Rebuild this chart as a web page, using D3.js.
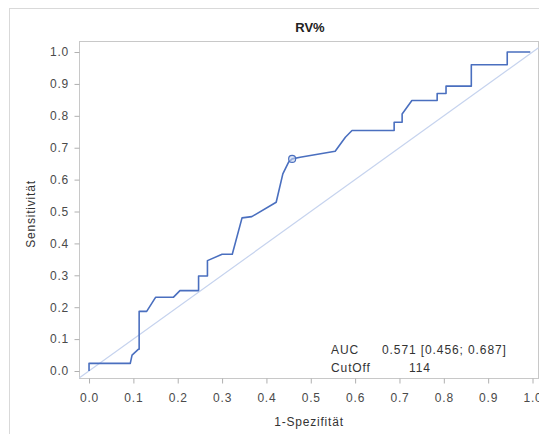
<!DOCTYPE html>
<html>
<head>
<meta charset="utf-8">
<script src="https://cdn.jsdelivr.net/npm/d3@7"></script>
<style>
  html, body { margin: 0; padding: 0; background: #fff; }
  svg { display: block; font-family: "Liberation Sans", Arial, sans-serif; }
</style>
</head>
<body>
<svg id="chart" width="539" height="434"></svg>
<script>
// ROC curve for RV%: 1-specificity (x) vs sensitivity (y)
const fpr  = [0.000, 0.000, 0.093, 0.097, 0.111, 0.113, 0.113, 0.130, 0.150, 0.190, 0.205, 0.247, 0.247, 0.267, 0.267, 0.300, 0.323, 0.345, 0.367, 0.422, 0.437, 0.450, 0.458, 0.476, 0.555, 0.578, 0.593, 0.688, 0.688, 0.706, 0.706, 0.728, 0.785, 0.785, 0.805, 0.805, 0.862, 0.862, 0.943, 0.943, 0.995];
const sens = [0.000, 0.024, 0.024, 0.050, 0.068, 0.068, 0.187, 0.187, 0.231, 0.231, 0.252, 0.252, 0.298, 0.298, 0.346, 0.366, 0.366, 0.480, 0.484, 0.529, 0.618, 0.655, 0.665, 0.670, 0.689, 0.733, 0.754, 0.754, 0.780, 0.780, 0.806, 0.848, 0.848, 0.870, 0.870, 0.893, 0.893, 0.960, 0.960, 1.000, 1.000];
const cutoffPoint = { x: 0.458, y: 0.665 };
const xTicks = [0, 0.1, 0.2, 0.3, 0.4, 0.5, 0.6, 0.7, 0.8, 0.9, 1.0];
const yTicks = [0, 0.1, 0.2, 0.3, 0.4, 0.5, 0.6, 0.7, 0.8, 0.9, 1.0];
const statLabels = ["AUC", "CutOff"];
const statValues = ["0.571 [0.456; 0.687]", "114"];

const svg = d3.select("#chart");
const plot = { left: 79.5, top: 41.5, right: 538.5, bottom: 378.5 };
const FONT = "'Liberation Sans', Arial, sans-serif";

const x = d3.scaleLinear().domain([-0.0215, 1.0135]).range([plot.left, plot.right]);
const y = d3.scaleLinear().domain([-0.0235, 1.033]).range([plot.bottom, plot.top]);

// outer panel border
svg.append("rect")
  .attr("x", 9.5).attr("y", 8.5).attr("width", 560).attr("height", 460)
  .attr("fill", "none").attr("stroke", "#d9d9d9");

// title
svg.append("text")
  .attr("x", 310).attr("y", 32)
  .attr("text-anchor", "middle")
  .attr("font-size", 13).attr("font-weight", "bold").attr("fill", "#222")
  .text("RV%");

// plot frame
svg.append("rect")
  .attr("x", plot.left).attr("y", plot.top)
  .attr("width", plot.right - plot.left).attr("height", plot.bottom - plot.top)
  .attr("fill", "#fff").attr("stroke", "#c8c8c8");

// axes
const xAxis = svg.append("g")
  .attr("transform", `translate(0,${plot.bottom})`)
  .call(d3.axisBottom(x).tickValues(xTicks).tickFormat(d3.format(".1f")).tickSize(5).tickPadding(9.5));
const yAxis = svg.append("g")
  .attr("transform", `translate(${plot.left},0)`)
  .call(d3.axisLeft(y).tickValues(yTicks).tickFormat(d3.format(".1f")).tickSize(5).tickPadding(5.5));
[xAxis, yAxis].forEach(g => {
  g.select(".domain").remove();
  g.selectAll(".tick line").attr("stroke", "#b0b0b0");
  g.selectAll(".tick text").attr("fill", "#4a4a4a").attr("font-size", 12)
    .attr("letter-spacing", 0.8).attr("font-family", FONT);
});

// axis titles
svg.append("text")
  .attr("x", 309).attr("y", 426)
  .attr("text-anchor", "middle").attr("font-size", 12).attr("letter-spacing", 0.8).attr("fill", "#333")
  .text("1-Spezifität");
svg.append("text")
  .attr("transform", `translate(35,214) rotate(-90)`)
  .attr("text-anchor", "middle").attr("font-size", 12).attr("letter-spacing", 0.8).attr("fill", "#333")
  .text("Sensitivität");

// reference diagonal y = x across the full x range
const [dx0, dx1] = x.domain();
svg.append("line")
  .attr("x1", x(dx0)).attr("y1", y(dx0))
  .attr("x2", x(dx1)).attr("y2", y(dx1))
  .attr("stroke", "#c6d3ee").attr("stroke-width", 1.2);

// ROC curve
const pts = fpr.map((v, i) => [v, sens[i]]);
svg.append("path")
  .datum(pts)
  .attr("fill", "none")
  .attr("stroke", "#4a6fbf").attr("stroke-width", 1.6)
  .attr("stroke-linejoin", "round")
  .attr("d", d3.line().x(d => x(d[0])).y(d => y(d[1])));

// optimal cutoff marker
svg.append("circle")
  .attr("cx", x(cutoffPoint.x)).attr("cy", y(cutoffPoint.y)).attr("r", 3.5)
  .attr("fill", "#c6d3ee").attr("fill-opacity", 0.6)
  .attr("stroke", "#4a6fbf").attr("stroke-width", 1.2);

// statistics inset
const stats = svg.append("g").attr("font-size", 12).attr("letter-spacing", 0.9).attr("fill", "#333");
stats.selectAll("text.lab").data(statLabels).join("text")
  .attr("class", "lab")
  .attr("x", 331).attr("y", (d, i) => 353.5 + i * 18)
  .text(d => d);
stats.selectAll("text.val").data(statValues).join("text")
  .attr("class", "val")
  .attr("x", (d, i) => i === 0 ? 382 : 409).attr("y", (d, i) => 353.5 + i * 18)
  .text(d => d);
</script>
</body>
</html>
